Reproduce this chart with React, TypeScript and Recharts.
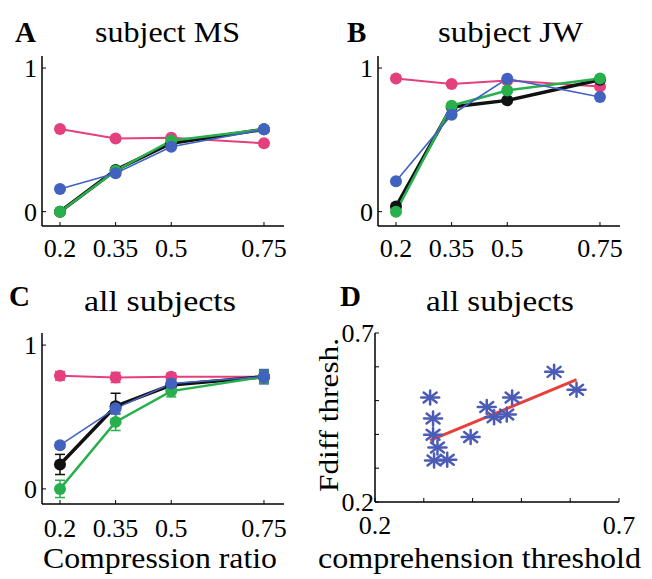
import React from 'react';
import { LineChart, Line, XAxis, YAxis, ErrorBar, ScatterChart, Scatter } from 'recharts';

const W = 652;
const H = 579;
const FONT = "'Liberation Serif', 'DejaVu Serif', serif";

const PINK = '#e4407e';
const BLACK = '#111111';
const GREEN = '#27b04b';
const BLUE = '#4262c0';
const STAR = '#4b5cb6';
const RED = '#e8403c';

// Compression ratios (x categories) for panels A-C
const ratios = [0.2, 0.35, 0.5, 0.75];
const propTicks = [0, 1];

// Panel A: subject MS
const msPink = [0.575, 0.51, 0.515, 0.476];
const msBlack = [0.0, 0.29, 0.476, 0.573];
const msGreen = [0.0, 0.285, 0.494, 0.573];
const msBlue = [0.158, 0.267, 0.452, 0.573];

// Panel B: subject JW
const jwPink = [0.928, 0.889, 0.914, 0.872];
const jwBlack = [0.035, 0.729, 0.775, 0.919];
const jwGreen = [0.0, 0.738, 0.844, 0.928];
const jwBlue = [0.211, 0.675, 0.926, 0.798];

// Panel C: all subjects (means and error)
const allPink = [0.786, 0.775, 0.78, 0.78];
const allBlack = [0.17, 0.575, 0.722, 0.78];
const allGreen = [0.0, 0.466, 0.68, 0.78];
const allBlue = [0.304, 0.56, 0.733, 0.78];
const allPinkErr = [0.03, 0.035, 0.025, 0.03];
const allBlackErr = [0.07, 0.09, 0.04, 0.04];
const allGreenErr = [0.06, 0.06, 0.04, 0.04];
const allBlueErr = [0.02, 0.04, 0.04, 0.05];

// Panel D: comprehension threshold vs Fdiff threshold
const compThresh = [0.313, 0.319, 0.319, 0.328, 0.321, 0.348, 0.396, 0.429, 0.444, 0.47, 0.481, 0.567, 0.613];
const fdiffThresh = [0.509, 0.447, 0.399, 0.361, 0.323, 0.325, 0.392, 0.481, 0.451, 0.459, 0.509, 0.585, 0.532];
const fitX = [0.313, 0.613];
const fitY = [0.382, 0.562];
const dTicks = [0.2, 0.3, 0.4, 0.5, 0.6, 0.7];

type Frame = { L: number; R: number; T: number; B: number };

const axisLine = { stroke: '#000', strokeWidth: 1.5 };
const tickLine = { stroke: '#000', strokeWidth: 1 };
const tickStyle = { fill: '#000', fontSize: 26, style: { fontFamily: FONT } };
const YW = 40;
const XH = 45;

function marginFor(f: Frame) {
  return { top: f.T, left: f.L - YW, right: W - f.R, bottom: H - f.B - XH };
}

type RatioProps = {
  frame: Frame;
  pink: number[];
  black: number[];
  green: number[];
  blue: number[];
  errs?: { pink: number[]; black: number[]; green: number[]; blue: number[] };
  yDomain: [number, number];
  xMargin: number;
};

function RatioPanel({ frame, pink, black, green, blue, errs, yDomain, xMargin }: RatioProps) {
  const data = ratios.map((x, i) => ({
    x,
    pink: pink[i],
    black: black[i],
    green: green[i],
    blue: blue[i],
    pinkErr: errs ? errs.pink[i] : 0,
    blackErr: errs ? errs.black[i] : 0,
    greenErr: errs ? errs.green[i] : 0,
    blueErr: errs ? errs.blue[i] : 0,
  }));
  const xDomain: [number, number] = [0.1515, 0.804];
  const series = [
    { key: 'pink', color: PINK, w: 2 },
    { key: 'black', color: BLACK, w: 3.5 },
    { key: 'green', color: GREEN, w: 2.5 },
    { key: 'blue', color: BLUE, w: 1.6 },
  ];
  return (
    <div style={{ position: 'absolute', left: 0, top: 0 }}>
      <LineChart width={W} height={H} data={data} margin={marginFor(frame)}>
        <XAxis
          xAxisId={0}
          type="number"
          dataKey="x"
          domain={xDomain}
          allowDataOverflow
          ticks={ratios}
          interval={0}
          tickFormatter={(v: number) => String(v)}
          tickSize={-4}
          tickMargin={xMargin}
          axisLine={axisLine}
          tickLine={tickLine}
          tick={tickStyle}
          height={XH}
        />
        <XAxis
          xAxisId="top"
          orientation="top"
          type="number"
          dataKey="x"
          domain={xDomain}
          allowDataOverflow
          ticks={ratios}
          interval={0}
          tickFormatter={() => ''}
          tickSize={-4}
          axisLine={axisLine}
          tickLine={tickLine}
          height={0}
        />
        <YAxis
          yAxisId={0}
          type="number"
          domain={yDomain}
          allowDataOverflow
          ticks={propTicks}
          interval={0}
          tickSize={-4}
          tickMargin={9}
          axisLine={axisLine}
          tickLine={tickLine}
          tick={tickStyle}
          width={YW}
        />
        <YAxis
          yAxisId="right"
          orientation="right"
          type="number"
          domain={yDomain}
          allowDataOverflow
          ticks={propTicks}
          interval={0}
          tickFormatter={() => ''}
          tickSize={-4}
          axisLine={axisLine}
          tickLine={tickLine}
          width={0}
        />
        {series.map((s) => (
          <Line
            key={s.key}
            type="linear"
            dataKey={s.key}
            stroke={s.color}
            strokeWidth={s.w}
            dot={{ r: 6, fill: s.color, stroke: s.color, strokeWidth: 0 }}
            activeDot={false}
            isAnimationActive={false}
          >
            {errs ? (
              <ErrorBar dataKey={s.key + 'Err'} width={5} stroke={s.color} strokeWidth={1.5} direction="y" />
            ) : null}
          </Line>
        ))}
      </LineChart>
    </div>
  );
}

const Asterisk = (props: any) => {
  const { cx, cy } = props;
  if (cx == null || cy == null) return <g />;
  const a = 9;
  const b = 7;
  const d = 6.5;
  const e = 5;
  return (
    <g stroke={STAR} strokeWidth={2.5} strokeLinecap="round">
      <line x1={cx - a} y1={cy} x2={cx + a} y2={cy} />
      <line x1={cx} y1={cy - b} x2={cx} y2={cy + b} />
      <line x1={cx - d} y1={cy - e} x2={cx + d} y2={cy + e} />
      <line x1={cx - d} y1={cy + e} x2={cx + d} y2={cy - e} />
    </g>
  );
};

function ScatterPanel() {
  const frame: Frame = { L: 375, R: 619, T: 333, B: 502 };
  const stars = compThresh.map((x, i) => ({ x, y: fdiffThresh[i] }));
  const fit = fitX.map((x, i) => ({ x, y: fitY[i] }));
  const endLabel = (v: number) => (v === 0.2 || v === 0.7 ? String(v) : '');
  return (
    <div style={{ position: 'absolute', left: 0, top: 0 }}>
      <ScatterChart width={W} height={H} margin={marginFor(frame)}>
        <XAxis
          xAxisId={0}
          type="number"
          dataKey="x"
          domain={[0.2, 0.7]}
          allowDataOverflow
          ticks={dTicks}
          interval={0}
          tickFormatter={endLabel}
          tickSize={-4}
          tickMargin={18}
          axisLine={axisLine}
          tickLine={tickLine}
          tick={tickStyle}
          height={XH}
        />
        <XAxis
          xAxisId="top"
          orientation="top"
          type="number"
          dataKey="x"
          domain={[0.2, 0.7]}
          allowDataOverflow
          ticks={dTicks}
          interval={0}
          tickFormatter={() => ''}
          tickSize={-4}
          axisLine={axisLine}
          tickLine={tickLine}
          height={0}
        />
        <YAxis
          yAxisId={0}
          type="number"
          dataKey="y"
          domain={[0.2, 0.7]}
          allowDataOverflow
          ticks={dTicks}
          interval={0}
          tickFormatter={endLabel}
          tickSize={-4}
          tickMargin={5}
          axisLine={axisLine}
          tickLine={tickLine}
          tick={tickStyle}
          width={YW}
        />
        <YAxis
          yAxisId="right"
          orientation="right"
          type="number"
          dataKey="y"
          domain={[0.2, 0.7]}
          allowDataOverflow
          ticks={dTicks}
          interval={0}
          tickFormatter={() => ''}
          tickSize={-4}
          axisLine={axisLine}
          tickLine={tickLine}
          width={0}
        />
        <Scatter
          name="fit"
          data={fit}
          line={{ stroke: RED, strokeWidth: 3 }}
          shape={() => <g />}
          isAnimationActive={false}
        />
        <Scatter name="subjects" data={stars} shape={<Asterisk />} isAnimationActive={false} />
      </ScatterChart>
    </div>
  );
}

function Overlay() {
  const st = { fontFamily: FONT };
  return (
    <svg width={W} height={H} style={{ position: 'absolute', left: 0, top: 0, pointerEvents: 'none' }}>
      <g fill="#000" style={st}>
        <text x={15} y={42} fontSize={29} fontWeight="bold" style={st}>A</text>
        <text x={95} y={42} fontSize={30} textLength={145} lengthAdjust="spacingAndGlyphs" style={st}>subject MS</text>
        <text x={347} y={42} fontSize={29} fontWeight="bold" style={st}>B</text>
        <text x={438} y={42} fontSize={30} textLength={145} lengthAdjust="spacingAndGlyphs" style={st}>subject JW</text>
        <text x={9} y={306} fontSize={29} fontWeight="bold" style={st}>C</text>
        <text x={84} y={311} fontSize={30} textLength={152} lengthAdjust="spacingAndGlyphs" style={st}>all subjects</text>
        <text x={340} y={306} fontSize={29} fontWeight="bold" style={st}>D</text>
        <text x={426} y={311} fontSize={30} textLength={148} lengthAdjust="spacingAndGlyphs" style={st}>all subjects</text>
        <text x={43} y={568} fontSize={30} textLength={234} lengthAdjust="spacingAndGlyphs" style={st}>Compression ratio</text>
        <text x={318} y={568} fontSize={30} textLength={323} lengthAdjust="spacingAndGlyphs" style={st}>comprehension threshold</text>
        <text
          transform="translate(338 415) rotate(-90)"
          x={0}
          y={0}
          fontSize={28}
          textAnchor="middle"
          textLength={154}
          lengthAdjust="spacingAndGlyphs"
          style={st}
        >
          Fdiff thresh.
        </text>
      </g>
    </svg>
  );
}

export default function App() {
  const yDom: [number, number] = [-0.1, 1.084];
  return (
    <div style={{ position: 'absolute', left: 0, top: 0, width: W, height: H, background: '#fff', overflow: 'hidden', fontFamily: FONT }}>
      <RatioPanel
        frame={{ L: 42, R: 284, T: 56, B: 226 }}
        pink={msPink}
        black={msBlack}
        green={msGreen}
        blue={msBlue}
        yDomain={yDom}
        xMargin={16.5}
      />
      <RatioPanel
        frame={{ L: 378, R: 620, T: 56, B: 226 }}
        pink={jwPink}
        black={jwBlack}
        green={jwGreen}
        blue={jwBlue}
        yDomain={yDom}
        xMargin={16.5}
      />
      <RatioPanel
        frame={{ L: 42, R: 284, T: 333, B: 504 }}
        pink={allPink}
        black={allBlack}
        green={allGreen}
        blue={allBlue}
        errs={{ pink: allPinkErr, black: allBlackErr, green: allGreenErr, blue: allBlueErr }}
        yDomain={[-0.105, 1.084]}
        xMargin={18.5}
      />
      <ScatterPanel />
      <Overlay />
    </div>
  );
}
